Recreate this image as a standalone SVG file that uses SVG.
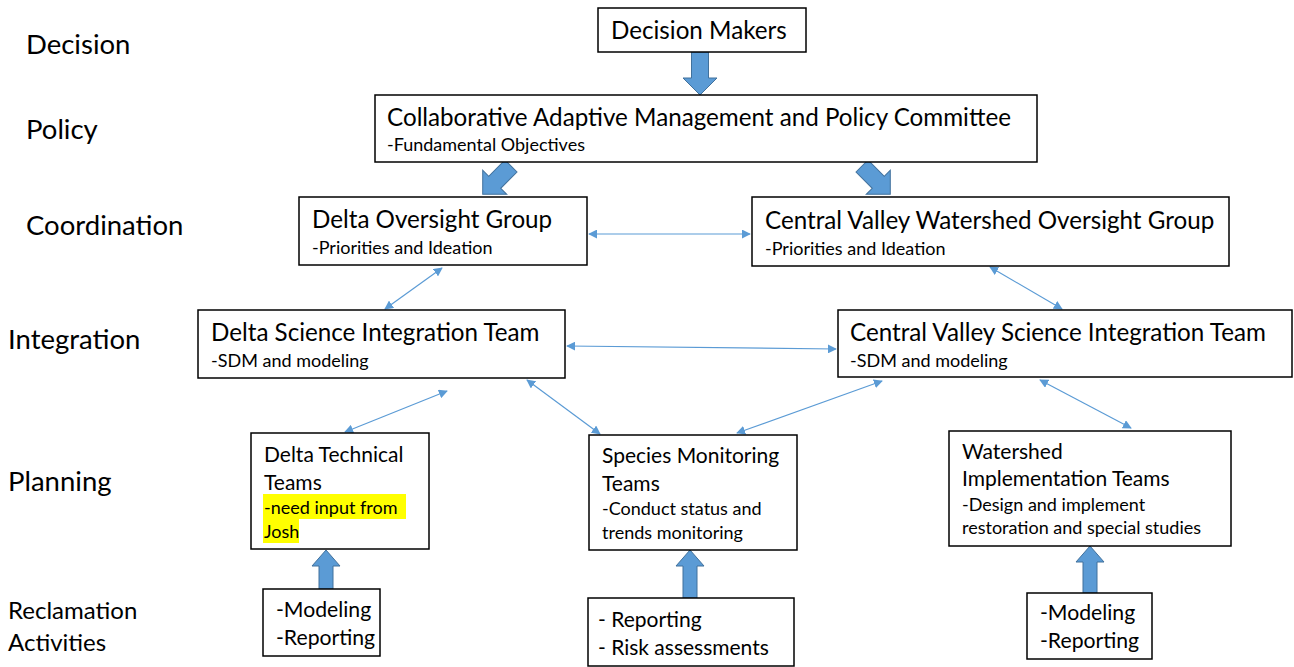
<svg xmlns="http://www.w3.org/2000/svg" width="1294" height="667" viewBox="0 0 1294 667">
<defs>
<style>
text{font-family:Lato,"Liberation Sans",sans-serif;fill:#000}
.box{fill:#fff;stroke:#000;stroke-width:1.5}
.lvl{font-size:27.5px}
.rc{font-size:24px}
.t{font-size:24.2px}
.s{font-size:18px}
.p{font-size:21px}
.b{font-size:21.2px}
.blk{fill:#5B9BD5;stroke:#41719C;stroke-width:1}
.con{stroke:#5B9BD5;stroke-width:1.2;fill:none;marker-start:url(#ah);marker-end:url(#ah)}
.hl{fill:#FFFF00}
</style>
<marker id="ah" viewBox="0 0 10 10" refX="9" refY="5" markerWidth="9" markerHeight="9" markerUnits="userSpaceOnUse" orient="auto-start-reverse">
<path d="M0,0 L10,5 L0,10 z" fill="#5B9BD5"/>
</marker>
<polygon id="blkdown" points="-8.5,0 8.5,0 8.5,23 17,23 0,40 -17,23 -8.5,23"/>
</defs>
<rect width="1294" height="667" fill="#fff"/>

<g id="levels">
<text class="lvl" x="26" y="54">Decision</text>
<text class="lvl" x="26" y="139">Policy</text>
<text class="lvl" x="26" y="235">Coordination</text>
<text class="lvl" x="8" y="349">Integration</text>
<text class="lvl" x="8" y="491">Planning</text>
<text class="rc" x="8" y="619">Reclamation</text>
<text class="rc" x="8" y="651">Activities</text>
</g>

<g id="connectors">
<polygon class="blk" points="691.5,52 708.5,52 708.5,78 717,78 700,95 683,78 691.5,78"/>
<use href="#blkdown" class="blk" transform="translate(511,166) rotate(45)"/>
<use href="#blkdown" class="blk" transform="translate(862,166) rotate(-45)"/>
<polygon class="blk" points="319,589 333,589 333,566 340,566 326,550 312,566 319,566"/>
<polygon class="blk" points="683,598 697,598 697,566 704,566 690,550 676,566 683,566"/>
<polygon class="blk" points="1083,593 1097,593 1097,562 1104,562 1090,546 1076,562 1083,562"/>
<line class="con" x1="589" y1="234" x2="750" y2="234"/>
<line class="con" x1="442" y1="268" x2="385" y2="309"/>
<line class="con" x1="990" y1="267" x2="1062" y2="309"/>
<line class="con" x1="567" y1="346" x2="836" y2="349"/>
<line class="con" x1="447" y1="391" x2="345" y2="432"/>
<line class="con" x1="527" y1="380" x2="600" y2="434"/>
<line class="con" x1="882" y1="381" x2="737" y2="433"/>
<line class="con" x1="1040" y1="380" x2="1131" y2="428"/>
</g>

<g id="decision-makers">
<rect class="box" x="598" y="8" width="208" height="44"/>
<text class="t" x="611" y="39">Decision Makers</text>
</g>

<g id="policy-committee">
<rect class="box" x="375" y="95" width="662" height="67"/>
<text class="t" x="387" y="126">Collaborative Adaptive Management and Policy Committee</text>
<text class="s" x="387" y="151">-Fundamental Objectives</text>
</g>

<g id="delta-oversight">
<rect class="box" x="299" y="197" width="288" height="68"/>
<text class="t" x="312" y="228">Delta Oversight Group</text>
<text class="s" x="312" y="254">-Priorities and Ideation</text>
</g>

<g id="cv-oversight">
<rect class="box" x="752" y="197" width="477" height="69"/>
<text class="t" x="765" y="229">Central Valley Watershed Oversight Group</text>
<text class="s" x="765" y="255">-Priorities and Ideation</text>
</g>

<g id="delta-integration">
<rect class="box" x="198" y="310" width="367" height="68"/>
<text class="t" x="211" y="341">Delta Science Integration Team</text>
<text class="s" x="211" y="367">-SDM and modeling</text>
</g>

<g id="cv-integration">
<rect class="box" x="838" y="310" width="454" height="67"/>
<text class="t" x="850" y="341">Central Valley Science Integration Team</text>
<text class="s" x="850" y="367">-SDM and modeling</text>
</g>

<g id="delta-technical">
<rect class="box" x="251" y="433" width="178" height="116"/>
<rect class="hl" x="263" y="494" width="143" height="25"/>
<rect class="hl" x="263" y="519" width="36" height="24"/>
<text class="p" x="264" y="462">Delta Technical</text>
<text class="p" x="264" y="490">Teams</text>
<text class="s" x="264" y="514">-need input from</text>
<text class="s" x="264" y="538">Josh</text>
</g>

<g id="species-monitoring">
<rect class="box" x="589" y="435" width="208" height="115"/>
<text class="p" x="602" y="463">Species Monitoring</text>
<text class="p" x="602" y="491">Teams</text>
<text class="s" x="602" y="515">-Conduct status and</text>
<text class="s" x="602" y="539">trends monitoring</text>
</g>

<g id="watershed-implementation">
<rect class="box" x="949" y="431" width="282" height="115"/>
<text class="p" x="962" y="459">Watershed</text>
<text class="p" x="962" y="486">Implementation Teams</text>
<text class="s" x="962" y="511">-Design and implement</text>
<text class="s" x="962" y="534">restoration and special studies</text>
</g>

<g id="delta-activities">
<rect class="box" x="263" y="589" width="117" height="67"/>
<text class="b" x="276" y="617">-Modeling</text>
<text class="b" x="276" y="645">-Reporting</text>
</g>

<g id="species-activities">
<rect class="box" x="588" y="598" width="206" height="68"/>
<text class="p" x="598" y="627">- Reporting</text>
<text class="p" x="598" y="655">- Risk assessments</text>
</g>

<g id="watershed-activities">
<rect class="box" x="1027" y="593" width="125" height="66"/>
<text class="b" x="1040" y="620">-Modeling</text>
<text class="b" x="1040" y="648">-Reporting</text>
</g>
</svg>
